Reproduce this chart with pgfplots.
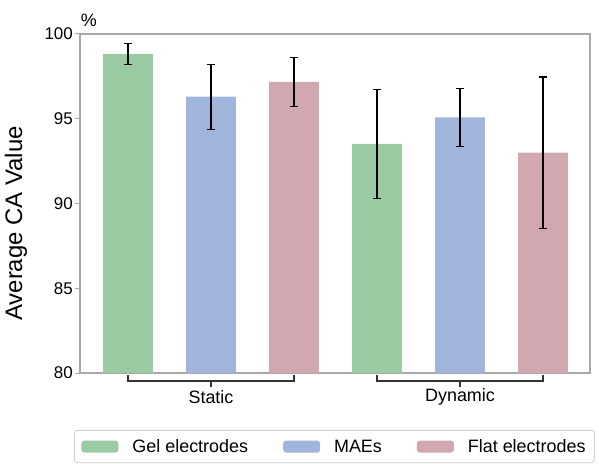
\documentclass[border=0pt]{standalone}
\usepackage{pgfplots}
\pgfplotsset{compat=1.18}
\usepackage{fontspec}
\setmainfont{Liberation Sans}
\definecolor{cgreen}{HTML}{9BCBA3}
\definecolor{cblue}{HTML}{A1B5DC}
\definecolor{cpink}{HTML}{D1A8B0}
\definecolor{spine}{HTML}{A8A8A8}
\begin{document}
\begin{tikzpicture}
\path (-80bp,-91bp) rectangle (519bp,373bp);
\begin{axis}[
  at={(0,0)}, anchor=south west,
  scale only axis, width=510bp, height=339bp,
  xmin=-0.578, xmax=5.566, ymin=80, ymax=100,
  ytick={80,85,90,95,100}, xtick=\empty,
  ytick pos=left, tick align=outside, major tick length=5bp,
  tick style={spine, line width=1bp},
  axis line style={spine, line width=1.2bp},
  /pgf/number format/assume math mode=true,
  yticklabel style={font=\fontsize{17}{20}\selectfont, inner xsep=2bp},
  ylabel={Average CA Value},
  ylabel style={at={(axis description cs:-0.1255,0.441)}, anchor=center, font=\fontsize{24}{28}\selectfont},
  ybar, bar width=0.6, bar shift=0pt,
  clip=false,
  legend columns=3,
  legend image code/.code={\fill[#1] (0bp,-6bp) rectangle (37bp,6bp);},
  legend style={at={(axis description cs:0.499,-0.168)}, anchor=north,
    draw=gray!35, rounded corners=3bp, line width=0.8bp,
    font=\fontsize{18}{21}\selectfont,
    inner xsep=7bp, inner ysep=7bp,
    /tikz/every odd column/.append style={column sep=12bp},
    /tikz/every even column/.append style={column sep=33bp}},
  error bars/error bar style={black, line width=1.1bp},
  error bars/error mark options={rotate=90, mark size=4bp, black, line width=1.1bp},
]
\addplot[fill=cgreen, draw=none, error bars/.cd, y dir=both, y explicit]
  coordinates {(0,98.82) +- (0,0.64) (3,93.52) +- (0,3.22)};
\addlegendentry{Gel electrodes}
\addplot[fill=cblue, draw=none, error bars/.cd, y dir=both, y explicit]
  coordinates {(1,96.30) +- (0,1.92) (4,95.08) +- (0,1.72)};
\addlegendentry{MAEs}
\addplot[fill=cpink, draw=none, error bars/.cd, y dir=both, y explicit]
  coordinates {(2,97.17) +- (0,1.44) (5,93.00) +- (0,4.46)};
\addlegendentry{Flat electrodes}
\draw[black!80, line width=1.1bp]
  ([yshift=-2bp]axis cs:0,80) -- ([yshift=-8bp]axis cs:0,80) -- ([yshift=-8bp]axis cs:2,80) -- ([yshift=-2bp]axis cs:2,80);
\draw[black!80, line width=1.1bp] ([yshift=-8bp]axis cs:1,80) -- ([yshift=-14bp]axis cs:1,80);
\draw[black!80, line width=1.1bp]
  ([yshift=-2bp]axis cs:3,80) -- ([yshift=-8bp]axis cs:3,80) -- ([yshift=-8bp]axis cs:5,80) -- ([yshift=-2bp]axis cs:5,80);
\draw[black!80, line width=1.1bp] ([yshift=-8bp]axis cs:4,80) -- ([yshift=-14bp]axis cs:4,80);
\node[font=\fontsize{18}{21}\selectfont, anchor=center] at ([yshift=-24bp]axis cs:1,80) {Static};
\node[font=\fontsize{18}{21}\selectfont, anchor=center] at ([yshift=-24bp]axis cs:4,80) {Dynamic};
\node[font=\fontsize{18}{21}\selectfont, anchor=center] at (axis description cs:0.0176,1.041) {\%};
\end{axis}
\end{tikzpicture}
\end{document}
